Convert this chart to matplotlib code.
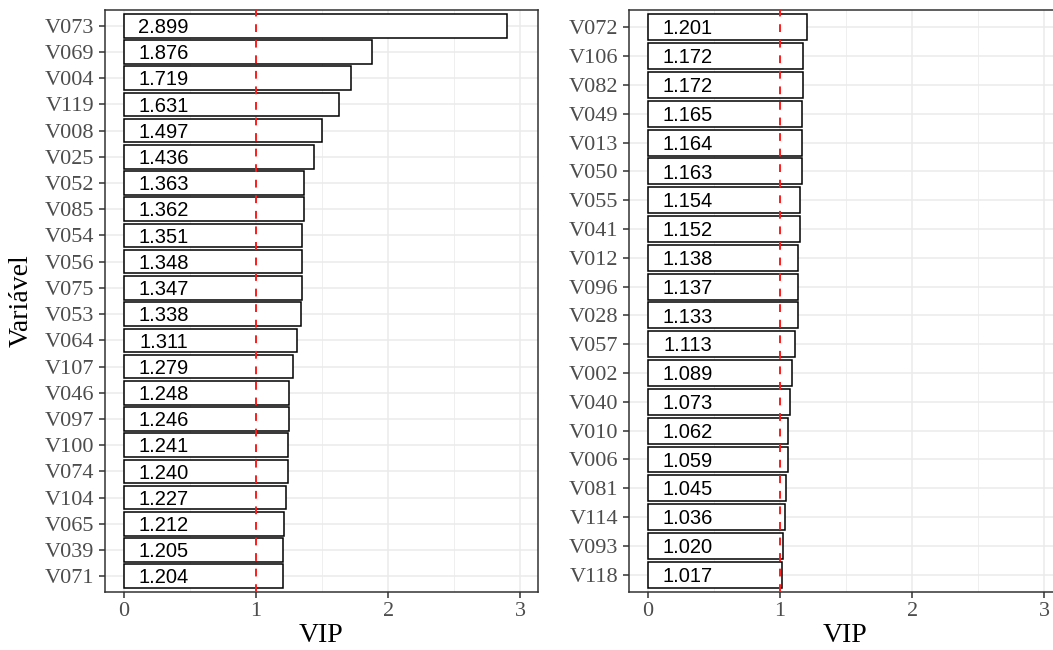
import numpy as np
import matplotlib
matplotlib.use("Agg")
import matplotlib.pyplot as plt

# VIP scores, highest first
vars_left = ['V073', 'V069', 'V004', 'V119', 'V008', 'V025', 'V052', 'V085', 'V054', 'V056', 'V075',
             'V053', 'V064', 'V107', 'V046', 'V097', 'V100', 'V074', 'V104', 'V065', 'V039', 'V071']
vip_left = [2.899, 1.876, 1.719, 1.631, 1.497, 1.436, 1.363, 1.362, 1.351, 1.348, 1.347,
            1.338, 1.311, 1.279, 1.248, 1.246, 1.241, 1.240, 1.227, 1.212, 1.205, 1.204]

vars_right = ['V072', 'V106', 'V082', 'V049', 'V013', 'V050', 'V055', 'V041', 'V012', 'V096',
              'V028', 'V057', 'V002', 'V040', 'V010', 'V006', 'V081', 'V114', 'V093', 'V118']
vip_right = [1.201, 1.172, 1.172, 1.165, 1.164, 1.163, 1.154, 1.152, 1.138, 1.137,
             1.133, 1.113, 1.089, 1.073, 1.062, 1.059, 1.045, 1.036, 1.020, 1.017]

x_ticks = [0, 1, 2, 3]
limiar = 1

serif = 'Liberation Serif'
sans = 'Liberation Sans'
fs_lab = 14.5

W, H = 1053, 650
fig = plt.figure(figsize=(W / 100, H / 100), dpi=100)

def painel(rect, nomes, valores):
    ax = fig.add_axes(rect)
    n = len(nomes)
    y = np.arange(n)[::-1]
    ax.set_xlim(-0.145, 3.136)
    ax.set_ylim(-0.6, n - 0.4)
    ax.set_xticks(x_ticks)
    ax.set_xticks([0.5, 1.5, 2.5], minor=True)
    ax.set_yticks(y)
    ax.set_yticklabels(nomes)
    ax.grid(True, which='major', color='#ebebeb', lw=1.1, zorder=0)
    ax.grid(True, which='minor', axis='x', color='#ebebeb', lw=0.55, zorder=0)
    ax.tick_params(axis='both', which='major', length=4.5, width=1.1, color='#333333',
                   labelcolor='#4d4d4d', labelsize=16, pad=3)
    ax.tick_params(axis='both', which='minor', length=0)
    for lab in ax.get_xticklabels() + ax.get_yticklabels():
        lab.set_fontfamily(serif)
    for s in ax.spines.values():
        s.set_color('#333333')
        s.set_linewidth(1.1)
    ax.barh(y, valores, height=0.9, color='white', edgecolor='black', lw=1.1, zorder=2)
    ax.axvline(limiar, color='#ff1a1a', lw=1.4, dashes=(4, 4), zorder=3)
    for yi, v in zip(y, valores):
        ax.annotate(f'{v:.3f}', (0.3, yi), xytext=(0, -0.716 * fs_lab / 2),
                    textcoords='offset points', ha='center', va='baseline',
                    fontsize=fs_lab, family=sans, color='black', zorder=4)
    ax.set_axisbelow(True)
    return ax

top, bottom = 10, 592
h = (bottom - top) / H
b = 1 - bottom / H
w = 433 / W
ax1 = painel([105 / W, b, w, h], vars_left, vip_left)
ax2 = painel([629 / W, b, w, h], vars_right, vip_right)

fig.text(21 / W, 1 - 301 / H, 'Variável', rotation=90, ha='center', va='center',
         fontsize=20, family=serif)
for cx in [(105 + 538) / 2, (629 + 1062) / 2]:
    fig.text(cx / W, 1.5 / H, 'VIP', ha='center', va='bottom', fontsize=20, family=serif)

fig.savefig('out.png', dpi=100, facecolor='white')
